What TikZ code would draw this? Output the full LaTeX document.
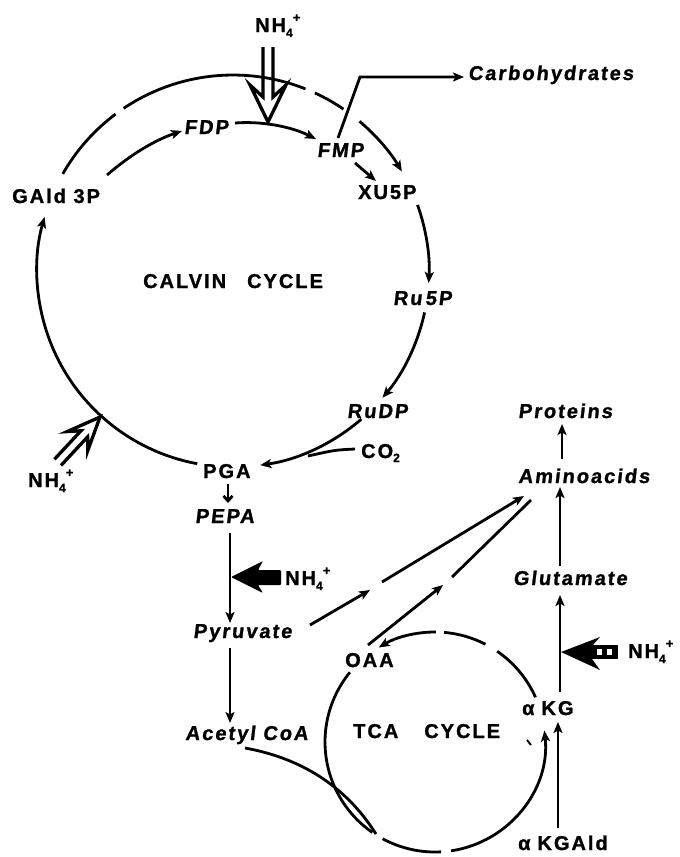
\documentclass[tikz,border=0pt]{standalone}
\usepackage{fontspec}
\newfontfamily\labf{Liberation Sans}[LetterSpace=10,FakeBold=1.2]
\newfontfamily\labsf{Liberation Sans}[LetterSpace=10,FakeSlant=0.12,FakeBold=1.2]
\usetikzlibrary{arrows.meta,calc}
\newcommand\nhfour{NH\raisebox{-5pt}{\fontsize{12}{12}\selectfont 4}\raisebox{10pt}{\fontsize{13}{13}\selectfont +}}
\newcommand\cotwo{CO\raisebox{-4pt}{\fontsize{12}{12}\selectfont 2}}
\begin{document}
\begin{tikzpicture}[x=1pt,y=-1pt,
  ln/.style={line width=2.8pt},
  arr/.style={ln,-{Stealth[length=11pt,width=9pt,inset=2.5pt]}},
  lab/.style={font=\labf\bfseries\fontsize{20}{22}\selectfont,inner sep=0pt,anchor=base west},
  labs/.style={lab,font=\labsf\bfseries\fontsize{20}{22}\selectfont},
  dbl/.style={line width=3.3pt,line join=miter}]
\useasboundingbox (0,0) rectangle (680,857);
% labels
\node[lab] (nhtop) at (255,32) {\nhfour};
\node[labs] (carb) at (468,80) {Carbohydrates};
\node[labs] (fdp) at (184,134) {FDP};
\node[labs] (fmp) at (317,157) {FMP};
\node[lab] (xu5p) at (358,199) {XU5P};
\node[lab] (gald) at (12,203) {GAld 3P};
\node[lab] (calvin) at (143,288) {CALVIN\hspace{21pt}CYCLE};
\node[labs] (ru5p) at (393,305) {Ru\,5P};
\node[labs] (rudp) at (347,418) {RuDP};
\node[lab] (co2) at (361,458) {\cotwo};
\node[labs] (prot) at (518,418) {Proteins};
\node[labs] (amino) at (518,483) {Aminoacids};
\node[lab] (pga) at (203,478) {PGA};
\node[lab] (nhll) at (28,487) {\nhfour};
\node[labs] (pepa) at (195,523) {PEPA};
\node[lab] (nhblack) at (285,585) {\nhfour};
\node[labs] (glu) at (513,585) {Glutamate};
\node[labs] (pyr) at (193,638) {Pyruvate};
\node[lab] (oaa) at (345,667) {OAA};
\node[lab] (nhright) at (628,658) {\nhfour};
\node[lab] (akg) at (522,715) {α\hspace{7pt}KG};
\node[lab] (tca) at (353,738) {TCA\hspace{26pt}CYCLE};
\node[labs] (acetyl) at (185,740) {Acetyl CoA};
\node[lab] (akgald) at (518,850) {α\hspace{7pt}KGAld};
% Calvin cycle
\coordinate (cc) at (233,271);
\def\rc{196}
\draw[ln] ($(cc)+(-150.3:\rc)$) arc[start angle=-150.3,end angle=-126.8,radius=\rc];
\draw[ln] ($(cc)+(-123.9:\rc)$) arc[start angle=-123.9,end angle=-68.3,radius=\rc];
\draw[ln] ($(cc)+(-65.3:\rc)$) arc[start angle=-65.3,end angle=-55.7,radius=\rc];
\draw[arr] ($(cc)+(-49.8:\rc)$) arc[start angle=-49.8,end angle=-30.5,radius=\rc];
\draw[arr] ($(cc)+(-19.7:\rc)$) arc[start angle=-19.7,end angle=3.5,radius=\rc];
\draw[arr] ($(cc)+(12.2:\rc)$) arc[start angle=12.2,end angle=40.3,radius=\rc];
\draw[arr] ($(cc)+(49.1:\rc)$) arc[start angle=49.1,end angle=82,radius=\rc];
\draw[arr] ($(cc)+(100.5:\rc)$) arc[start angle=100.5,end angle=196,radius=\rc];
\coordinate (co2e) at (355,449);
\draw[ln] (co2e) .. controls (335,450) .. (308,456);
% inner arrows
\draw[arr] (107,175) .. controls (130,155) and (155,140) .. (182,131);
\draw[arr] (235,123) .. controls (260,121) and (290,126) .. (316,139);
\draw[arr] (355,163) -- (376,181);
\draw[arr] (338,138) -- (360,77) -- (464,77);
% NH4 double arrows
\draw[dbl] (263,47) -- (263,97) -- (250,85) -- (268,122) -- (286,85) -- (273,97) -- (273,47);
\begin{scope}[shift={(100,417)},rotate=137]
\draw[dbl] (-4.5,-62) -- (-4.5,-23) -- (-14,-33) -- (0,0) -- (14,-33) -- (4.5,-23) -- (4.5,-62);
\end{scope}
\fill[rounded corners=1pt] (231,577) -- (263,561) -- (258,570) -- (281,570) -- (281,585) -- (258,585) -- (263,593) -- cycle;
\fill (561,652) -- (600,637) -- (592,646) -- (592,659) -- (600,670) -- cycle;
\fill (591,645) rectangle (618,659);
\fill[white] (597,649) rectangle (602,655);
\fill[white] (607,649) rectangle (612,655);
% vertical chain
\draw[ln,-{Straight Barb[length=5pt,width=9pt]}] (228,484) -- (228,503);
\draw[arr] (230,533) -- (230,623);
\draw[arr] (230,648) -- (230,723);
\draw[arr] (310,625) -- (370,590);
\draw[arr] (382,582) -- (524,496);
\draw[arr] (368,645) -- (443,585);
\draw[ln] (452,577) -- (531,500);
\draw[arr] (560,566) -- (560,487);
\draw[arr] (562,459) -- (562,424);
\draw[arr] (560,692) -- (560,595);
\draw[arr] (558,828) -- (558,722);
% TCA cycle
\coordinate (tc) at (435,742);
\def\rt{110}
\draw[ln] ($(tc)+(-24:\rt)$) arc[start angle=-24,end angle=-55.6,radius=\rt];
\draw[ln] ($(tc)+(-62.7:\rt)$) arc[start angle=-62.7,end angle=-85.3,radius=\rt];
\draw[arr] ($(tc)+(-89.5:\rt)$) arc[start angle=-89.5,end angle=-120.8,radius=\rt];
\draw[ln] ($(tc)+(219.3:\rt)$) arc[start angle=219.3,end angle=124.7,radius=\rt];
\draw[ln] ($(tc)+(118.4:\rt)$) arc[start angle=118.4,end angle=86.8,radius=\rt];
\draw[arr] ($(tc)+(81.6:\rt)$) arc[start angle=81.6,end angle=-6,radius=\rt];
\draw[ln] (245,748) .. controls (300,758) and (345,785) .. (376,834);
\draw[line width=1.8pt] (527,740) -- (531,745);
\end{tikzpicture}
\end{document}
